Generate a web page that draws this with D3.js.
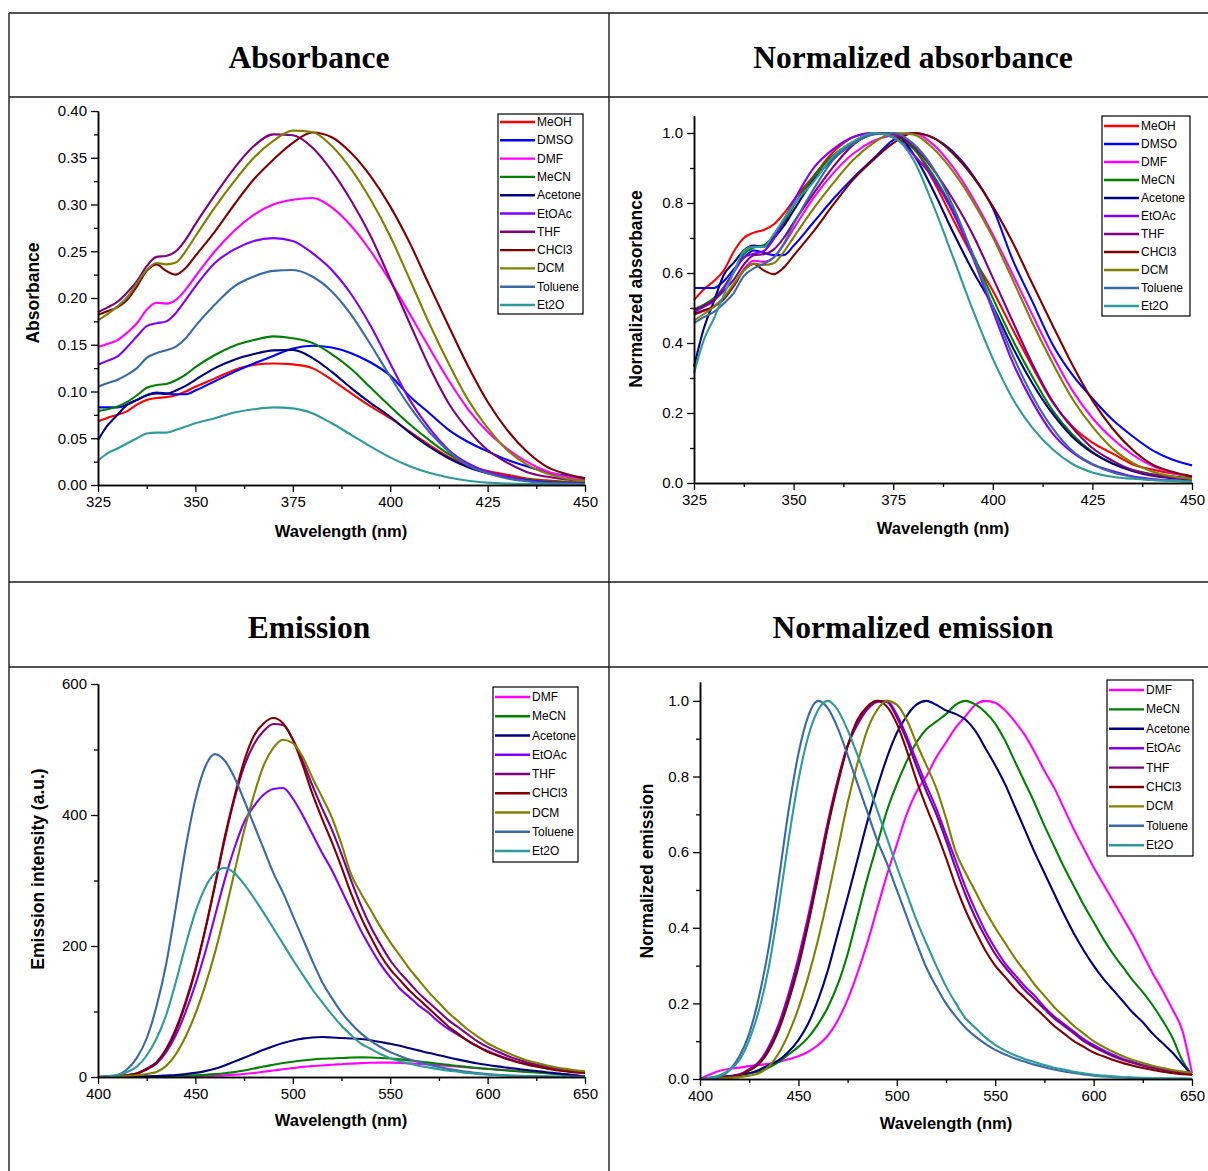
<!DOCTYPE html>
<html>
<head>
<meta charset="utf-8">
<script src="https://cdn.jsdelivr.net/npm/d3@7"></script>
<style>
  body { margin: 0; background: #fff; }
  svg { display: block; }
</style>
</head>
<body>
<svg id="fig" width="1208" height="1171"></svg>
<script>
// ---------- Absorbance spectra (absorbance units) ----------
const absWavelengths = [325, 327.5, 330, 332.5, 335, 337.5, 340, 342.5, 345, 347.5, 350,
  355, 360, 365, 370, 375, 380, 385, 390, 395, 400, 405, 410, 415, 420, 425, 430, 435, 440, 445, 450];

const absMeOH    = [0.068, 0.072, 0.075, 0.079, 0.086, 0.091, 0.093, 0.094, 0.096, 0.100, 0.105,
  0.114, 0.123, 0.1285, 0.130, 0.129, 0.125, 0.1125, 0.098, 0.084, 0.0714, 0.057, 0.043, 0.030, 0.021, 0.015, 0.011, 0.007, 0.005, 0.0035, 0.0025];
const absDMSO    = [0.083, 0.083, 0.083, 0.086, 0.091, 0.096, 0.099, 0.098, 0.097, 0.097, 0.101,
  0.111, 0.121, 0.130, 0.138, 0.146, 0.149, 0.147, 0.141, 0.131, 0.117, 0.095, 0.077, 0.059, 0.046, 0.036, 0.027, 0.020, 0.014, 0.010, 0.0075];
const absDMF     = [0.1475, 0.151, 0.155, 0.163, 0.173, 0.1875, 0.195, 0.194, 0.198, 0.209, 0.223,
  0.250, 0.272, 0.289, 0.300, 0.305, 0.307, 0.297, 0.277, 0.250, 0.218, 0.183, 0.147, 0.112, 0.081, 0.057, 0.039, 0.025, 0.015, 0.009, 0.0055];
const absMeCN    = [0.079, 0.081, 0.084, 0.089, 0.096, 0.104, 0.107, 0.108, 0.112, 0.118, 0.126,
  0.139, 0.149, 0.155, 0.159, 0.157, 0.152, 0.140, 0.124, 0.104, 0.084, 0.065, 0.048, 0.033, 0.022, 0.014, 0.009, 0.006, 0.004, 0.003, 0.002];
const absAcetone = [0.048, 0.064, 0.075, 0.086, 0.091, 0.096, 0.098, 0.0975, 0.101, 0.106, 0.1125,
  0.125, 0.134, 0.140, 0.144, 0.1445, 0.136, 0.121, 0.1036, 0.0875, 0.073, 0.056, 0.041, 0.0286, 0.019, 0.0125, 0.008, 0.005, 0.003, 0.002, 0.0015];
const absEtOAc   = [0.1286, 0.133, 0.1375, 0.1475, 0.159, 0.170, 0.173, 0.175, 0.184, 0.198, 0.2125,
  0.2375, 0.252, 0.261, 0.264, 0.261, 0.248, 0.230, 0.204, 0.170, 0.130, 0.091, 0.061, 0.0375, 0.023, 0.014, 0.009, 0.005, 0.003, 0.002, 0.0015];
const absTHF     = [0.185, 0.190, 0.196, 0.206, 0.218, 0.234, 0.244, 0.245, 0.250, 0.2625, 0.279,
  0.310, 0.339, 0.3625, 0.375, 0.374, 0.361, 0.336, 0.304, 0.266, 0.220, 0.173, 0.127, 0.0875, 0.059, 0.0375, 0.024, 0.014, 0.009, 0.006, 0.0045];
const absCHCl3   = [0.182, 0.186, 0.190, 0.198, 0.2125, 0.229, 0.236, 0.229, 0.225, 0.232, 0.245,
  0.271, 0.300, 0.327, 0.348, 0.366, 0.377, 0.372, 0.355, 0.330, 0.298, 0.259, 0.214, 0.170, 0.127, 0.089, 0.059, 0.036, 0.020, 0.012, 0.007];
const absDCM     = [0.176, 0.183, 0.191, 0.201, 0.216, 0.230, 0.2375, 0.236, 0.238, 0.250, 0.266,
  0.297, 0.325, 0.350, 0.368, 0.379, 0.3775, 0.3625, 0.3375, 0.305, 0.266, 0.220, 0.173, 0.130, 0.091, 0.061, 0.0375, 0.022, 0.0125, 0.007, 0.0045];
const absToluene = [0.105, 0.109, 0.1125, 0.118, 0.125, 0.136, 0.141, 0.144, 0.148, 0.157, 0.170,
  0.193, 0.2125, 0.223, 0.229, 0.230, 0.223, 0.207, 0.182, 0.150, 0.116, 0.084, 0.057, 0.036, 0.021, 0.0125, 0.007, 0.004, 0.002, 0.0015, 0.001];
const absEt2O    = [0.026, 0.034, 0.039, 0.0446, 0.050, 0.055, 0.056, 0.056, 0.059, 0.0625, 0.066,
  0.0714, 0.0775, 0.081, 0.083, 0.082, 0.0768, 0.066, 0.0536, 0.041, 0.0295, 0.020, 0.013, 0.008, 0.0045, 0.0025, 0.0015, 0.001, 0.0007, 0.0005, 0.0003];

const absSolvents = ["MeOH", "DMSO", "DMF", "MeCN", "Acetone", "EtOAc", "THF", "CHCl3", "DCM", "Toluene", "Et2O"];
const absSeries = [absMeOH, absDMSO, absDMF, absMeCN, absAcetone, absEtOAc, absTHF, absCHCl3, absDCM, absToluene, absEt2O];

// ---------- Emission spectra: peak-normalised profiles and peak intensities (a.u.) ----------
const emWavelengths = d3.range(400, 651, 5);

const emDMF     = [0, 0.012, 0.022, 0.027, 0.030, 0.034, 0.037, 0.040, 0.045, 0.052, 0.060, 0.072, 0.090, 0.115, 0.155, 0.210, 0.280, 0.360, 0.450, 0.540,
  0.620, 0.700, 0.760, 0.800, 0.850, 0.890, 0.930, 0.960, 0.990, 1.000, 0.995, 0.975, 0.945, 0.910, 0.865, 0.815, 0.770, 0.715, 0.660, 0.610,
  0.560, 0.515, 0.470, 0.425, 0.380, 0.330, 0.280, 0.235, 0.185, 0.130, 0.015];
const emMeCN    = [0, 0.003, 0.005, 0.007, 0.010, 0.015, 0.020, 0.030, 0.045, 0.065, 0.085, 0.110, 0.145, 0.190, 0.250, 0.330, 0.430, 0.530, 0.620, 0.710,
  0.780, 0.840, 0.890, 0.925, 0.945, 0.965, 0.990, 1.000, 0.990, 0.970, 0.940, 0.895, 0.840, 0.785, 0.730, 0.670, 0.615, 0.560, 0.510, 0.460,
  0.415, 0.370, 0.330, 0.295, 0.260, 0.230, 0.195, 0.155, 0.110, 0.050, 0.010];
const emAcetone = [0, 0.003, 0.005, 0.008, 0.012, 0.015, 0.024, 0.037, 0.050, 0.072, 0.103, 0.147, 0.209, 0.288, 0.385, 0.480, 0.580, 0.680, 0.770, 0.850,
  0.915, 0.960, 0.990, 1.000, 0.990, 0.975, 0.965, 0.950, 0.920, 0.875, 0.830, 0.780, 0.720, 0.660, 0.600, 0.545, 0.490, 0.435, 0.385, 0.340,
  0.300, 0.265, 0.235, 0.205, 0.175, 0.150, 0.120, 0.095, 0.070, 0.040, 0.010];
const emEtOAc   = [0, 0.001, 0.003, 0.006, 0.012, 0.026, 0.046, 0.086, 0.145, 0.225, 0.320, 0.430, 0.555, 0.680, 0.790, 0.880, 0.935, 0.975, 0.995, 0.998,
  0.962, 0.905, 0.840, 0.775, 0.715, 0.645, 0.575, 0.505, 0.445, 0.390, 0.345, 0.305, 0.275, 0.245, 0.220, 0.190, 0.165, 0.145, 0.125, 0.105,
  0.090, 0.076, 0.064, 0.053, 0.045, 0.037, 0.031, 0.026, 0.021, 0.018, 0.015];
const emTHF     = [0, 0.001, 0.003, 0.005, 0.010, 0.024, 0.042, 0.080, 0.137, 0.213, 0.305, 0.415, 0.540, 0.670, 0.785, 0.878, 0.940, 0.978, 0.998, 0.995,
  0.955, 0.895, 0.825, 0.760, 0.700, 0.630, 0.555, 0.485, 0.425, 0.375, 0.330, 0.295, 0.265, 0.235, 0.210, 0.185, 0.160, 0.140, 0.120, 0.100,
  0.085, 0.072, 0.060, 0.050, 0.042, 0.035, 0.029, 0.024, 0.020, 0.017, 0.014];
const emCHCl3   = [0, 0.001, 0.003, 0.005, 0.010, 0.022, 0.040, 0.075, 0.130, 0.205, 0.297, 0.410, 0.535, 0.667, 0.780, 0.880, 0.950, 0.985, 1.000, 0.985,
  0.940, 0.870, 0.790, 0.720, 0.655, 0.585, 0.510, 0.445, 0.390, 0.340, 0.300, 0.270, 0.240, 0.215, 0.190, 0.165, 0.140, 0.120, 0.100, 0.085,
  0.070, 0.060, 0.050, 0.042, 0.035, 0.029, 0.024, 0.019, 0.016, 0.013, 0.011];
const emDCM     = [0, 0, 0.001, 0.003, 0.005, 0.009, 0.015, 0.033, 0.068, 0.120, 0.187, 0.270, 0.368, 0.482, 0.606, 0.730, 0.835, 0.923, 0.976, 1.000,
  0.990, 0.950, 0.888, 0.830, 0.770, 0.690, 0.600, 0.545, 0.495, 0.445, 0.400, 0.360, 0.320, 0.285, 0.250, 0.220, 0.190, 0.165, 0.140, 0.120,
  0.100, 0.085, 0.072, 0.060, 0.050, 0.042, 0.035, 0.029, 0.024, 0.020, 0.017];
const emToluene = [0, 0.002, 0.006, 0.024, 0.060, 0.120, 0.218, 0.350, 0.526, 0.710, 0.860, 0.960, 1.000, 0.980, 0.928, 0.857, 0.782, 0.707, 0.632, 0.570,
  0.500, 0.430, 0.360, 0.295, 0.245, 0.200, 0.165, 0.135, 0.112, 0.093, 0.077, 0.065, 0.054, 0.046, 0.038, 0.031, 0.025, 0.020, 0.016, 0.012,
  0.009, 0.007, 0.005, 0.004, 0.003, 0.002, 0.002, 0.001, 0.001, 0.001, 0];
const emEt2O    = [0, 0.003, 0.010, 0.024, 0.050, 0.103, 0.183, 0.297, 0.456, 0.632, 0.790, 0.906, 0.976, 1.000, 0.976, 0.923, 0.857, 0.787, 0.712, 0.637,
  0.562, 0.491, 0.420, 0.359, 0.300, 0.245, 0.200, 0.160, 0.135, 0.110, 0.090, 0.075, 0.063, 0.053, 0.045, 0.037, 0.030, 0.025, 0.019, 0.015,
  0.011, 0.009, 0.007, 0.005, 0.004, 0.003, 0.002, 0.002, 0.001, 0.001, 0.001];

const emSolvents = ["DMF", "MeCN", "Acetone", "EtOAc", "THF", "CHCl3", "DCM", "Toluene", "Et2O"];
const emProfiles = [emDMF, emMeCN, emAcetone, emEtOAc, emTHF, emCHCl3, emDCM, emToluene, emEt2O];
const emPeak     = [22, 30, 61, 442, 540, 548, 515, 493, 319];

// ---------- Solvent colours ----------
const solventColor = {
  MeOH: "#ff0000", DMSO: "#0000ff", DMF: "#ff00ff", MeCN: "#008000", Acetone: "#000080",
  EtOAc: "#8000ff", THF: "#800080", CHCl3: "#800000", DCM: "#808000", Toluene: "#3a6aa6", Et2O: "#2f9a9a"
};

// ---------- Derived series ----------
const zip = (xs, ys) => xs.map((x, i) => [x, ys[i]]);
const absRaw = absSolvents.map((s, i) => ({ name: s, pts: zip(absWavelengths, absSeries[i]) }));
const absNorm = absSolvents.map((s, i) => {
  const m = d3.max(absSeries[i]);
  return { name: s, pts: zip(absWavelengths, absSeries[i].map(v => v / m)) };
});
const emRaw = emSolvents.map((s, i) => ({ name: s, pts: zip(emWavelengths, emProfiles[i].map(v => v * emPeak[i])) }));
const emNorm = emSolvents.map((s, i) => {
  const m = d3.max(emProfiles[i]);
  return { name: s, pts: zip(emWavelengths, emProfiles[i].map(v => v / m)) };
});

const svg = d3.select("#fig");
svg.append("rect").attr("width", 1208).attr("height", 1171).attr("fill", "#fff");

// ---------- Table frame ----------
const frame = svg.append("g").attr("stroke", "#1a1a1a").attr("stroke-width", 1.4).attr("fill", "none");
[[9, 13, 1208, 13], [9, 97, 1208, 97], [9, 582, 1208, 582], [9, 667, 1208, 667],
 [9, 13, 9, 1171], [609, 13, 609, 1171]].forEach(([a, b, c, d]) =>
  frame.append("line").attr("x1", a).attr("y1", b).attr("x2", c).attr("y2", d));

const titleFont = "'Liberation Serif', 'Times New Roman', serif";
const sansFont = "'Liberation Sans', Arial, sans-serif";
[["Absorbance", 309, 57], ["Normalized absorbance", 913, 57], ["Emission", 309, 627], ["Normalized emission", 913, 627]]
  .forEach(([t, x, y]) => svg.append("text").attr("x", x).attr("y", y).attr("text-anchor", "middle")
    .attr("dominant-baseline", "central").attr("font-family", titleFont).attr("font-weight", "bold")
    .attr("font-size", 31.5).attr("fill", "#000").text(t));

// ---------- Panel renderer ----------
function drawPanel(p) {
  const x = d3.scaleLinear().domain(p.xDomain).range([p.left, p.right]);
  const y = d3.scaleLinear().domain(p.yDomain).range([p.bottom, p.top]);
  const g = svg.append("g");

  const line = d3.line().x(d => x(d[0])).y(d => y(d[1])).curve(d3.curveMonotoneX);
  g.append("g").selectAll("path").data(p.series).join("path")
    .attr("d", d => line(d.pts)).attr("fill", "none")
    .attr("stroke", d => solventColor[d.name]).attr("stroke-width", 2.1)
    .attr("stroke-linejoin", "round");

  const styleAxis = sel => {
    sel.select(".domain").attr("stroke", "#000").attr("stroke-width", 1.5);
    sel.selectAll(".tick line").attr("stroke", "#000").attr("stroke-width", 1.3);
    sel.selectAll("text").attr("font-family", sansFont).attr("font-size", 15).attr("fill", "#000");
  };

  // minor ticks
  g.append("g").attr("transform", `translate(0,${p.bottom})`)
    .call(d3.axisBottom(x).tickValues(p.xMinor).tickSize(4).tickFormat("").tickSizeOuter(0)).call(styleAxis);
  g.append("g").attr("transform", `translate(${p.left},0)`)
    .call(d3.axisLeft(y).tickValues(p.yMinor).tickSize(4).tickFormat("").tickSizeOuter(0)).call(styleAxis);
  // major ticks
  g.append("g").attr("transform", `translate(0,${p.bottom})`)
    .call(d3.axisBottom(x).tickValues(p.xMajor).tickSize(7).tickPadding(4).tickFormat(d3.format("d")).tickSizeOuter(0))
    .call(styleAxis);
  g.append("g").attr("transform", `translate(${p.left},0)`)
    .call(d3.axisLeft(y).tickValues(p.yMajor).tickSize(7).tickPadding(4).tickFormat(d3.format(p.yFormat)).tickSizeOuter(0))
    .call(styleAxis);

  g.append("text").attr("x", p.xTitle[0]).attr("y", p.xTitle[1]).attr("text-anchor", "middle")
    .attr("dominant-baseline", "central").attr("font-family", sansFont).attr("font-weight", "bold")
    .attr("font-size", 16.5).text("Wavelength (nm)");
  g.append("text").attr("transform", `translate(${p.yTitle[0]},${p.yTitle[1]}) rotate(-90)`)
    .attr("text-anchor", "middle").attr("dominant-baseline", "central").attr("font-family", sansFont)
    .attr("font-weight", "bold").attr("font-size", 17.5).text(p.yLabel);

  // legend
  const L = p.legend;
  const lg = g.append("g");
  lg.append("rect").attr("x", L.x).attr("y", L.y).attr("width", L.w).attr("height", L.h)
    .attr("fill", "#fff").attr("stroke", "#000").attr("stroke-width", 1.2);
  p.series.forEach((s, i) => {
    const yy = L.first + i * L.step;
    lg.append("line").attr("x1", L.x + 2).attr("x2", L.x + 37).attr("y1", yy).attr("y2", yy)
      .attr("stroke", solventColor[s.name]).attr("stroke-width", 2.4);
    lg.append("text").attr("x", L.x + 39).attr("y", yy).attr("dominant-baseline", "central")
      .attr("font-family", sansFont).attr("font-size", 12).attr("fill", "#000").text(s.name);
  });
}

const absXMajor = d3.range(325, 451, 25), absXMinor = d3.range(337.5, 451, 25);
const emXMajor = d3.range(400, 651, 50), emXMinor = d3.range(425, 651, 50);

drawPanel({
  left: 98, right: 585, top: 111, bottom: 485, xDomain: [325, 450], yDomain: [0, 0.40],
  xMajor: absXMajor, xMinor: absXMinor,
  yMajor: d3.range(0, 0.401, 0.05), yMinor: d3.range(0.025, 0.4, 0.05), yFormat: ".2f",
  series: absRaw, yLabel: "Absorbance", xTitle: [341, 531], yTitle: [33, 293],
  legend: { x: 498, y: 114, w: 85, h: 200, first: 122, step: 18.3 }
});
drawPanel({
  left: 694, right: 1192, top: 115.5, bottom: 483, xDomain: [325, 450], yDomain: [0, 1.05],
  xMajor: absXMajor, xMinor: absXMinor,
  yMajor: d3.range(0, 1.01, 0.2), yMinor: d3.range(0.1, 1.0, 0.2), yFormat: ".1f",
  series: absNorm, yLabel: "Normalized absorbance", xTitle: [943, 528], yTitle: [636, 289],
  legend: { x: 1102, y: 116, w: 88, h: 200, first: 126, step: 18 }
});
drawPanel({
  left: 98, right: 585, top: 684, bottom: 1077, xDomain: [400, 650], yDomain: [0, 600],
  xMajor: emXMajor, xMinor: emXMinor,
  yMajor: d3.range(0, 601, 200), yMinor: d3.range(100, 600, 200), yFormat: "d",
  series: emRaw, yLabel: "Emission intensity (a.u.)", xTitle: [341, 1120], yTitle: [38, 869],
  legend: { x: 493, y: 687, w: 85, h: 175, first: 697, step: 19.25 }
});
drawPanel({
  left: 700, right: 1192, top: 682, bottom: 1079, xDomain: [400, 650], yDomain: [0, 1.05],
  xMajor: emXMajor, xMinor: emXMinor,
  yMajor: d3.range(0, 1.01, 0.2), yMinor: d3.range(0.1, 1.0, 0.2), yFormat: ".1f",
  series: emNorm, yLabel: "Normalized emission", xTitle: [946, 1123], yTitle: [647, 871],
  legend: { x: 1107, y: 680, w: 86, h: 176, first: 690, step: 19.4 }
});
</script>
</body>
</html>
